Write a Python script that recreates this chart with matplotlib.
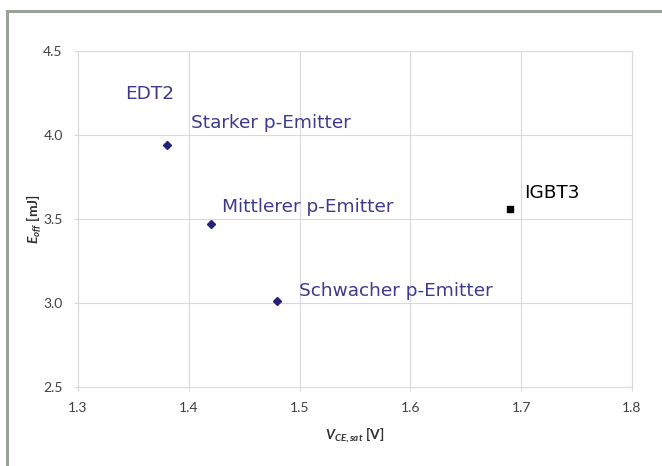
import matplotlib.pyplot as plt
from matplotlib.lines import Line2D

plt.rcParams['mathtext.fontset'] = 'custom'
plt.rcParams['mathtext.it'] = 'Lato:italic:bold'
plt.rcParams['mathtext.rm'] = 'Lato:bold'

edt2_names = ['Starker p-Emitter', 'Mittlerer p-Emitter', 'Schwacher p-Emitter']
edt2_vce = [1.38, 1.42, 1.48]
edt2_eoff = [3.94, 3.47, 3.01]
igbt3_name = 'IGBT3'
igbt3_vce = [1.69]
igbt3_eoff = [3.56]

x_ticks = [1.3, 1.4, 1.5, 1.6, 1.7, 1.8]
y_ticks = [2.5, 3.0, 3.5, 4.0, 4.5]

blue = '#25207a'
txt_blue = '#3c3a8c'
grid_c = '#d9d9d9'

fig = plt.figure(figsize=(6.62, 4.66), dpi=100)
ax = fig.add_axes([78 / 662, 1 - 387 / 466, (632 - 78) / 662, (387 - 51) / 466])

ax.plot(edt2_vce, edt2_eoff, 'D', color=blue, markersize=4.5, linestyle='none')
ax.plot(igbt3_vce, igbt3_eoff, 's', color='black', markersize=5, linestyle='none')

# Beschriftungen (Versatz in Pixel)
fs = 13.3
offsets = [(24, 22), (11, 17), (22, 10)]
for name, xv, yv, off in zip(edt2_names, edt2_vce, edt2_eoff, offsets):
    ax.annotate(name, (xv, yv), xytext=off, textcoords='offset pixels',
                ha='left', va='center', fontsize=fs, color=txt_blue,
                family='DejaVu Sans')
ax.annotate('EDT2', (edt2_vce[0], edt2_eoff[0]), xytext=(-42, 51),
            textcoords='offset pixels', ha='left', va='center',
            fontsize=fs, color=txt_blue, family='DejaVu Sans')
ax.annotate(igbt3_name, (igbt3_vce[0], igbt3_eoff[0]), xytext=(14, 16),
            textcoords='offset pixels', ha='left', va='center',
            fontsize=fs, color='black', family='DejaVu Sans')

ax.set_xlim(1.3, 1.8)
ax.set_ylim(2.5, 4.5)
ax.set_xticks(x_ticks)
ax.set_yticks(y_ticks)
ax.set_xticklabels([f'{v:.1f}' for v in x_ticks])
ax.set_yticklabels([f'{v:.1f}' for v in y_ticks])
ax.grid(True, color=grid_c, linewidth=0.8)
ax.set_axisbelow(True)
for s in ax.spines.values():
    s.set_color(grid_c)
    s.set_linewidth(0.8)
ax.tick_params(direction='out', length=3, color=grid_c, width=0.8,
               labelsize=10, labelcolor='#404040', pad=8)
for lab in ax.get_xticklabels() + ax.get_yticklabels():
    lab.set_family('Lato')

ax.set_xlabel(r'$V_{CE,sat}$ [V]', fontsize=10, fontweight='bold',
              family='Lato', color='#303030', labelpad=8)
ax.set_ylabel(r'$E_{off}$ [mJ]', fontsize=10, fontweight='bold',
              family='Lato', color='#303030', labelpad=0)

# Rahmen oben und links
fig.add_artist(Line2D([7 / 662, 1], [1 - 11 / 466, 1 - 11 / 466],
                      transform=fig.transFigure, color='#9aa396', linewidth=2.2))
fig.add_artist(Line2D([7 / 662, 7 / 662], [0, 1 - 11 / 466],
                      transform=fig.transFigure, color='#9aa396', linewidth=2.2))

fig.savefig('out.png', dpi=100)
